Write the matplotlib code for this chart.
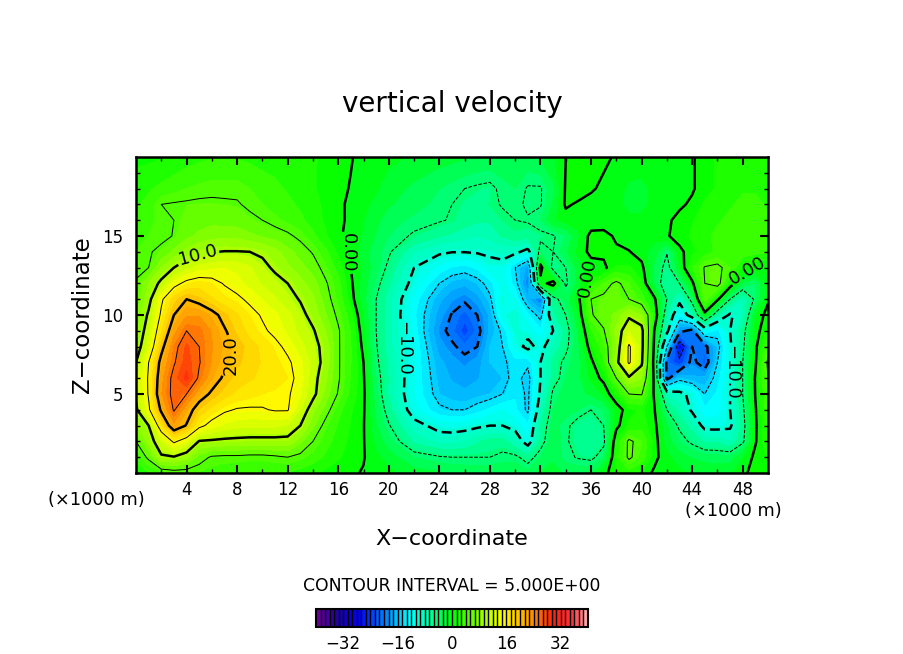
import numpy as np
import matplotlib
matplotlib.use("Agg")
import matplotlib.pyplot as plt
from matplotlib.colors import LinearSegmentedColormap, BoundaryNorm

# grid of the field, in 1000 m
x_km = list(range(0, 21)) + [22, 24, 25, 26, 27, 28] + list(range(29, 51))
z_km = [20, 18, 17, 16, 15, 14, 13, 12, 11, 10, 9, 8, 7, 6, 5, 4, 3, 2, 1, 0]

# vertical velocity, one row per z_km value
w_z20 = [1, 1, 1.2, 1.5, 2, 2.3, 2.5, 2.5, 2.5, 2.3, 2, 2, 2, 1.8, 1.5, 1, .8, .1, -.5, -.8, -1, -1.5, -2, -2.2, -2.5, -2.8, -3,
         -3, -3, -3, -2.5, -1.5, 0, .8, .8, .5, -.3, -.8, -1, -1, -1, -.8, -.2, .8, 1.5, 2, 2, 2, 2]
w_z18 = [2, 2.5, 3, 3.5, 4, 4.3, 4.5, 4.5, 4.5, 4, 3.5, 3, 2.5, 2, 1.5, .9, .4, -.1, -.6, -1.2, -2, -3, -4, -4.5, -5, -5.3, -5.5,
         -4.5, -4, -5.2, -5.2, -3, .2, 1, .3, -.5, -1, -1.5, -1.5, -1.2, -1, -.6, -.2, .8, 1.5, 2, 2.5, 2.5, 2.3]
w_z17 = [2.5, 3, 5, 5.2, 5.3, 5.4, 5.4, 5.3, 5.2, 4.6, 4, 3.4, 3, 2.4, 1.8, 1, .3, -.3, -1, -1.7, -2.5, -3.5, -4.4, -5, -5.5, -5.6, -5.3,
         -4.9, -4.4, -5.4, -5.2, -2.5, .3, -.3, -.8, -1, -1.2, -1.5, -1.5, -1.2, -.6, -.3, .3, 1.5, 2, 2.5, 3, 3, 2.5]
w_z16 = [3, 3.7, 4.3, 5, 5.6, 6, 6.2, 6.1, 6, 5.5, 5, 4.3, 3.7, 3, 2, 1.1, .4, -.4, -1.3, -2.3, -3.5, -4.3, -4.8, -5.2, -6, -6.4, -6.5,
         -5.3, -5, -4.8, -4, -1.5, -.8, -1, -1, -1, -1, -1.2, -1.2, -.8, -.3, .5, 1.2, 2, 2.5, 3, 3.5, 3.5, 2.8]
w_z15 = [3.5, 4, 4.5, 5.1, 6.3, 7, 7.5, 7.6, 7.5, 7, 6.5, 6, 5.4, 4.5, 3, 1.5, .3, -.6, -1.5, -2.8, -4, -5.3, -6.5, -7, -7.5, -8, -7.5,
         -6.5, -5.5, -6, -5.5, -5.2, -4, -1.5, .5, .6, -.3, -1, -1, -.8, -.2, .8, 1.5, 2.3, 3, 3.5, 3.5, 3.5, 3]
w_z14 = [4, 4.8, 5.5, 7, 8.5, 9.4, 9.9, 10.1, 10.1, 10, 9.5, 8.5, 7.2, 6, 4.8, 3, 1, -.4, -2, -3.5, -4.7, -8, -9.5, -9.9, -9.9, -9.7, -9.5,
         -9, -9.3, -11, -4, -5, -3, -1, .5, .5, .3, .1, -.8, -2, -4.8, -.5, 1, 2, 3, 3.5, 3.5, 3, 3]
w_z13 = [4.5, 5, 8, 10, 11.5, 12.5, 13, 13.3, 13, 12.2, 10.8, 9.5, 8.3, 7.2, 6, 4.2, 2, 0, -1.7, -3.5, -5.5, -10, -12.5, -13.5, -14, -13, -11,
         -11, -15, -18, 1, -6, -5, -2, -.8, -.5, 1.5, 1.5, .5, -3, -6, -1.5, 2.5, 5.2, 5.6, 4, 1, .3, -.3]
w_z12 = [5.2, 8, 10.7, 14, 15.8, 16.5, 16, 14.8, 13.8, 12.8, 11.8, 11, 10, 8.5, 7.3, 5.3, 3.2, .3, -2, -4.3, -6.5, -11, -15, -16.5, -17, -16, -14,
         -11.5, -14, -20, -1, 1, -5.5, -2, 2, 4, 5.5, 4, 1.5, -3, -7, -5, -.5, 5, 6, 1.5, -3, -4, -1]
w_z11 = [5.5, 9, 14.5, 18, 20, 19, 17.5, 16.3, 15.6, 14.4, 13.3, 12.2, 11, 9.8, 8.3, 6, 3.6, .7, -2.2, -5, -7.5, -12.5, -17, -18.5, -19.5, -18, -15.5,
         -10.5, -12, -17, -20, -6, -3.5, -.5, 5, 5.5, 5.5, 5, 3.5, .5, -5, -9, -4, 5, .5, -5, -8, -4.5, -.3]
w_z10 = [6.5, 10.5, 15.5, 20, 22.5, 22.5, 21, 19, 17.5, 16, 14.7, 13.6, 12.5, 10.9, 9, 6.8, 4.5, 1.8, -1.5, -5, -7.5, -13, -18, -20.2, -22, -20, -17,
         -11, -10, -13, -16, -7, -5, -1.5, 4.8, 6, 7, 9.5, 8, 2, -7, -13, -8, -1, -7, -10.5, -8, -1.5, .8]
w_z9 = [7.5, 11.5, 17, 22, 25, 24.5, 22.5, 20.3, 18.3, 16.8, 15.5, 14.3, 13, 11.5, 10.3, 8, 5.3, 2.5, -1, -5, -7.5, -12.5, -19, -21, -23.5, -21, -17,
        -14.5, -10.5, -11, -13, -10, -6, -2.5, 2.5, 4.8, 8.5, 12, 11, 0, -9, -19, -21, -12, -14, -10, -6, -.8, 1.5]
w_z8 = [8.5, 12.5, 19, 24, 27, 25, 22.8, 21, 19.5, 18, 17, 15.8, 14.3, 12.5, 11, 9, 5.3, 2.7, -.5, -4.8, -7.5, -12, -18, -19.5, -21, -20, -16,
        -15, -11.5, -9, -11, -8, -5.5, -3, 1, 3.5, 8, 15.5, 11, -.5, -15, -28, -20, -21, -16, -10.5, -5.5, -.5, 4]
w_z7 = [10, 15, 21, 24.7, 27.5, 25.2, 22.5, 20.5, 19, 18, 17.2, 16.3, 15.5, 13.7, 11.5, 9, 5.3, 2.7, 0, -4.5, -7, -12, -17, -18, -19, -18, -16,
        -15.5, -14, -14.5, -10, -6, -4.5, -3, -.5, 2.5, 9, 15.5, 10.5, -1, -21, -24, -19, -22, -15, -10.5, -5, -.3, 5.5]
w_z6 = [11.5, 15.3, 22, 26, 28.5, 24.5, 21.5, 19.5, 18, 17.5, 17, 16.5, 16, 14, 11, 8.3, 5.3, 2.5, .2, -4, -6.8, -12, -16.5, -17.5, -18, -17.5, -16.5,
        -16, -14, -16, -10, -6, -4, -3, -1, .5, 5, 9.5, 8, -.5, -21, -16, -17, -17, -14, -10.5, -5, .2, 5]
w_z5 = [10.5, 15.3, 22.5, 26, 25, 21.5, 19.5, 18, 17, 16.5, 16, 15.8, 15.4, 13.5, 10.8, 7.5, 4.8, 2.2, .3, -3.5, -7, -12, -16, -16.7, -17, -16.5, -16,
        -15, -13.5, -15.5, -9.5, -4.5, -3.5, -3, -2.5, -1.2, 1.5, 5, 5.2, -.3, -8, -9, -11, -15, -13, -10, -5, .1, 4]
w_z4 = [9.5, 14.5, 20.5, 25.3, 21.5, 18.5, 16.8, 15.4, 14.8, 14.7, 14.8, 15.2, 15.2, 12, 8.5, 6, 3.2, 1.5, .2, -3, -6, -11.5, -14.5, -15, -15, -14, -13,
        -12, -13, -15.5, -8, -4, -3.5, -4, -5, -4, -1, 1, 1.5, .2, -5, -7.5, -10.5, -13, -13, -10, -5.5, -.2, 3.5]
w_z3 = [7.5, 10, 17, 22, 19.8, 15.8, 14, 13, 12.5, 12.3, 12.3, 12.3, 11.8, 10, 7, 4.2, 2.5, 1.2, .1, -2.5, -4.8, -9, -11, -11.2, -11, -10.5, -10,
        -10, -11, -13, -6.5, -3.5, -4.5, -6, -6.5, -5, -.5, 1.5, 2, .5, -2.5, -5.5, -7.5, -11, -11, -10.5, -6, -.3, 3]
w_z2 = [5, 8.5, 12, 15.5, 13.5, 9.8, 9.6, 9.4, 9.3, 9.2, 9.2, 9.2, 9.2, 7, 5, 3.3, 2, 1, .1, -1.8, -3.5, -7, -8.5, -8.5, -8, -7, -6,
        -6, -8, -11.5, -6, -3, -4.7, -6, -6.5, -5.5, 1.5, 5.5, 4, .8, -2, -4, -5.5, -7, -7, -8, -5.5, -.2, 2.5]
w_z1 = [3, 5.5, 9.6, 9.8, 8.5, 6, 4.7, 4.5, 4.5, 4.3, 4.3, 4.6, 5, 4.4, 3.4, 2.4, 1.5, .8, .1, -1, -2, -4, -4.8, -5, -5, -5, -5,
        -4.5, -4.5, -6, -4, -3, -4.5, -5.2, -5.5, -4, 2, 5.5, 3.5, .5, -1, -2, -2.8, -3.3, -3.5, -3.5, -1.5, .5, 1.5]
w_z0 = [2, 2.5, 3.5, 4, 4, 3.8, 3.5, 3.2, 3, 3, 3, 2.8, 2.5, 2, 1.5, 1, .6, .2, -.1, -.5, -1, -2, -2.5, -2.8, -3, -3, -3,
        -3, -3, -3.5, -2.5, -2, -3, -3, -3, -.5, 1, 2, 1, -.3, -.5, -1, -1.5, -1.5, -1.5, -1.5, -.3, .5, 1]
w_rows = [w_z20, w_z18, w_z17, w_z16, w_z15, w_z14, w_z13, w_z12, w_z11, w_z10,
          w_z9, w_z8, w_z7, w_z6, w_z5, w_z4, w_z3, w_z2, w_z1, w_z0]

thick_levels = [-20, -10, 0, 10, 20]
thin_levels = [-25, -15, -5, 5, 15, 25]
x_ticks = [4, 8, 12, 16, 20, 24, 28, 32, 36, 40, 44, 48]
z_ticks = [5, 10, 15]
bar_ticks = [-32, -16, 0, 16, 32]

W, H = 904, 654


def fx(px):
    return px / W


def fy(py):
    return 1 - py / H


# rainbow of the colour bar, purple through green to pink
anchors = [(-40, (.40, 0, .60)), (-34, (.10, 0, .65)), (-28, (0, 0, 1)), (-19, (0, .6, 1)),
           (-13, (0, 1, 1)), (-7, (0, 1, .65)), (0, (0, 1, 0)), (8, (.55, 1, 0)), (15, (1, 1, 0)),
           (23, (1, .6, 0)), (30, (1, .12, .05)), (36, (1, .2, .25)), (40, (1, .65, .65))]
cmap = LinearSegmentedColormap.from_list("bands", [((v + 40) / 80, c) for v, c in anchors], N=256)
levels = np.linspace(-40, 40, 61)
norm = BoundaryNorm(levels, cmap.N)

fig = plt.figure(figsize=(W / 100, H / 100), dpi=100)
ax = fig.add_axes([fx(136), fy(473), fx(768 - 136), (473 - 157) / H])

w = np.array(w_rows)
cf = ax.contourf(x_km, z_km, w, levels=levels, cmap=cmap, norm=norm)
thin_styles = ["dashed" if v < 0 else "solid" for v in thin_levels]
thick_styles = [(0, (4, 2)) if v < 0 else "solid" for v in thick_levels]
ax.contour(x_km, z_km, w, levels=thin_levels, colors="black", linewidths=0.7, linestyles=thin_styles)
cs = ax.contour(x_km, z_km, w, levels=thick_levels, colors="black", linewidths=1.8, linestyles=thick_styles)

label_fmt = {0: "0.00", 10: "10.0", -10: "\u221210.0", 20: "20.0", -20: "\u221220.0"}
label_spots = [(4.9, 13.75), (6.7, 7.6), (17, 14), (21, 7.9), (35.6, 12.4), (47.4, 6.4), (48.4, 12.7)]
label_rots = [15, 90, -90, -90, 80, -90, 30]
labels = ax.clabel(cs, fmt=label_fmt, fontsize=13, manual=label_spots, inline_spacing=2)
for t, r in zip(labels, label_rots):
    t.set_rotation(r)

ax.set_xlim(0, 50)
ax.set_ylim(0, 20)
ax.set_xticks(x_ticks)
ax.set_yticks(z_ticks)
ax.set_xticks(range(2, 50, 4), minor=True)
ax.set_yticks(range(1, 20), minor=True)
ax.tick_params(which="major", direction="in", top=True, right=True, length=6, width=1.5, labelsize=12)
ax.tick_params(which="minor", direction="in", top=True, right=True, length=3, width=1)
ax.tick_params(axis="x", which="major", pad=6)
ax.tick_params(axis="y", which="major", pad=9)
for s in ax.spines.values():
    s.set_linewidth(1.8)

fig.text(fx(452), fy(104), "vertical velocity", ha="center", va="center", fontsize=20)
fig.text(fx(452), fy(539), "X\u2212coordinate", ha="center", va="center", fontsize=16)
fig.text(fx(83), fy(315), "Z\u2212coordinate", ha="center", va="center", rotation=90, fontsize=16.5)
fig.text(fx(96), fy(500), "(\u00d71000 m)", ha="center", va="center", fontsize=12.8)
fig.text(fx(733), fy(511), "(\u00d71000 m)", ha="center", va="center", fontsize=12.8)
fig.text(fx(452), fy(586), "CONTOUR INTERVAL = 5.000E+00", ha="center", va="center", fontsize=12.4)

cax = fig.add_axes([fx(316), fy(627), fx(588 - 316), (627 - 609) / H])
cb = fig.colorbar(cf, cax=cax, orientation="horizontal", drawedges=True, ticks=bar_ticks)
cb.dividers.set_linewidth(1.0)
cb.outline.set_linewidth(1.5)
cb.ax.minorticks_off()
cb.ax.set_xticklabels(["\u221232", "\u221216", "0", "16", "32"])
cb.ax.tick_params(length=0, labelsize=12, pad=6)

fig.savefig("out.png", dpi=100)
